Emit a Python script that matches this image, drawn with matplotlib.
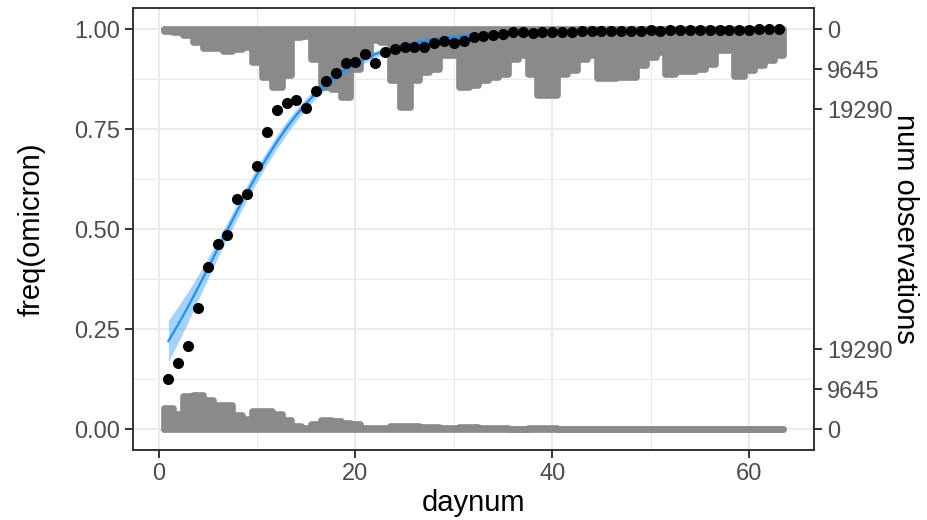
import numpy as np
import matplotlib
matplotlib.use("Agg")
import matplotlib.pyplot as plt
from matplotlib.ticker import MultipleLocator

plt.rcParams['font.family'] = ['Liberation Sans', 'DejaVu Sans']

# daily frequency of omicron (points)
daynum = np.arange(1, 64)
freq_omicron = [0.125, 0.166, 0.208, 0.303, 0.405, 0.462, 0.486, 0.576, 0.588, 0.658,
                0.742, 0.798, 0.815, 0.823, 0.802, 0.844, 0.869, 0.889, 0.916, 0.918,
                0.937, 0.914, 0.942, 0.949, 0.954, 0.954, 0.956, 0.964, 0.971, 0.964,
                0.969, 0.981, 0.983, 0.984, 0.988, 0.992, 0.992, 0.991, 0.992, 0.993,
                0.992, 0.993, 0.994, 0.994, 0.994, 0.995, 0.996, 0.995, 0.996, 0.997,
                0.996, 0.997, 0.997, 0.997, 0.997, 0.998, 0.998, 0.998, 0.998, 0.998,
                0.999, 0.999, 0.9995]

# observations per day: omicron (hang from the top) and other (stand on the bottom)
n_omicron = [600, 720, 1370, 3130, 4580, 4580, 5300, 4750, 4270, 7960,
             11570, 13980, 11190, 1860, 1620, 7160, 13980, 14390, 16390, 9570,
             6370, 2750, 3060, 12390, 18810, 12390, 10370, 9570, 6370, 6370,
             13980, 13600, 12390, 11570, 10780, 7160, 6370, 10780, 15840, 15840,
             10780, 9980, 7160, 6200, 11810, 11810, 11570, 11570, 8780, 6750,
             5550, 10780, 10220, 10220, 9570, 8370, 5160, 5160, 11330, 9980,
             8780, 7570, 6370]
n_other = [4990, 3620, 7900, 8250, 6900, 5800, 5800, 3300, 2400, 4270,
           4270, 3550, 2150, 800, 240, 1210, 2200, 1860, 1450, 1250,
           200, 170, 300, 820, 820, 820, 580, 580, 170, 170,
           400, 380, 300, 260, 200, 90, 80, 150, 170, 160,
           120, 100, 60, 50, 90, 80, 70, 70, 50, 30,
           30, 50, 40, 40, 40, 30, 20, 20, 40, 30,
           25, 20, 20]

# logistic fit and its confidence band
fit_day = [1, 2, 3, 4, 5, 6, 7, 8, 9, 10, 11, 12, 13, 14, 15, 16, 17, 18, 19, 20,
           22, 25, 28, 32, 36, 40, 45, 50, 55, 63]
fit_freq = [0.220, 0.262, 0.306, 0.353, 0.401, 0.450, 0.498, 0.546, 0.592, 0.636,
            0.678, 0.717, 0.753, 0.785, 0.814, 0.840, 0.862, 0.882, 0.899, 0.914,
            0.937, 0.960, 0.975, 0.986, 0.992, 0.995, 0.998, 0.999, 0.9995, 0.9998]
fit_se = [0.052, 0.045, 0.038, 0.031, 0.026, 0.022, 0.020, 0.019, 0.018, 0.018,
          0.017, 0.017, 0.016, 0.015, 0.014, 0.013, 0.012, 0.011, 0.010, 0.010,
          0.008, 0.007, 0.005, 0.004, 0.003, 0.002, 0.001, 0.001, 0.0005, 0.0002]

count_ticks = [0, 9645, 19290]
count_scale = 96450  # observations per unit of the freq axis

hist_col = '#8a8a8a'
fit_col = '#1E90FF'
grid_col = '#EBEBEB'
dark = '#333333'

fig = plt.figure(figsize=(9.27, 5.2), dpi=100)
ax = fig.add_axes([133 / 927, 70 / 520, 681 / 927, 442 / 520])

# histograms: step outline of the daily counts, filled and stroked thick
step_x = np.repeat(np.append(daynum - 0.5, daynum[-1] + 0.5), 2)[1:-1]
top_h = np.repeat(np.array(n_omicron) / count_scale, 2)
bot_h = np.repeat(np.array(n_other) / count_scale, 2)
for base, edge in [(1, 1 - top_h), (0, bot_h)]:
    ax.fill_between(step_x, base, edge, color=hist_col, lw=0, zorder=2)
    ax.plot(np.concatenate([[step_x[0]], step_x, [step_x[-1]]]),
            np.concatenate([[base], edge, [base]]),
            color=hist_col, lw=4.8, solid_joinstyle='round', solid_capstyle='round', zorder=2)
    ax.plot([step_x[0], step_x[-1]], [base, base], color=hist_col, lw=4.8,
            solid_capstyle='round', zorder=2)

fit_freq = np.array(fit_freq)
fit_se = np.array(fit_se)
ax.fill_between(fit_day, fit_freq - fit_se, np.minimum(fit_freq + fit_se, 1),
                color=fit_col, alpha=0.4, lw=0, zorder=3)
ax.plot(fit_day, fit_freq, color=fit_col, lw=1.6, zorder=4)

ax.scatter(daynum, freq_omicron, s=64, color='black', linewidths=0, zorder=5)

ax.set_xlim(-2.6, 66.6)
ax.set_ylim(-0.0525, 1.0525)
ax.xaxis.set_major_locator(MultipleLocator(20))
ax.xaxis.set_minor_locator(MultipleLocator(10))
ax.yaxis.set_major_locator(MultipleLocator(0.25))
ax.yaxis.set_minor_locator(MultipleLocator(0.125))
ax.yaxis.set_major_formatter(plt.FuncFormatter(lambda v, p: f'{v:.2f}'))
ax.grid(True, which='major', color=grid_col, lw=1.5, zorder=0)
ax.grid(True, which='minor', color=grid_col, lw=0.8, zorder=0)
ax.set_axisbelow(True)
ax.tick_params(which='major', length=5.5, width=1.4, color=dark, labelsize=17,
               labelcolor='#4D4D4D', pad=4)
ax.tick_params(which='minor', length=0)
for s in ax.spines.values():
    s.set_color(dark)
    s.set_linewidth(1.4)

ax.set_xlabel('daynum', fontsize=21, labelpad=3)
ax.set_ylabel('freq(omicron)', fontsize=21, labelpad=20)

# secondary axis with observation counts for both histograms
ax2 = ax.twinx()
ax2.set_ylim(ax.get_ylim())
cnt = np.array(count_ticks)
ax2.set_yticks(list(cnt / count_scale) + list(1 - cnt / count_scale))
ax2.set_yticklabels([str(c) for c in count_ticks] * 2)
ax2.tick_params(length=5.5, width=1.4, color=dark, labelsize=17, labelcolor='#4D4D4D', pad=4)
for s in ax2.spines.values():
    s.set_visible(False)
ax2.set_ylabel('num observations', fontsize=21, rotation=270, labelpad=19)

fig.savefig('out.png', dpi=100)
